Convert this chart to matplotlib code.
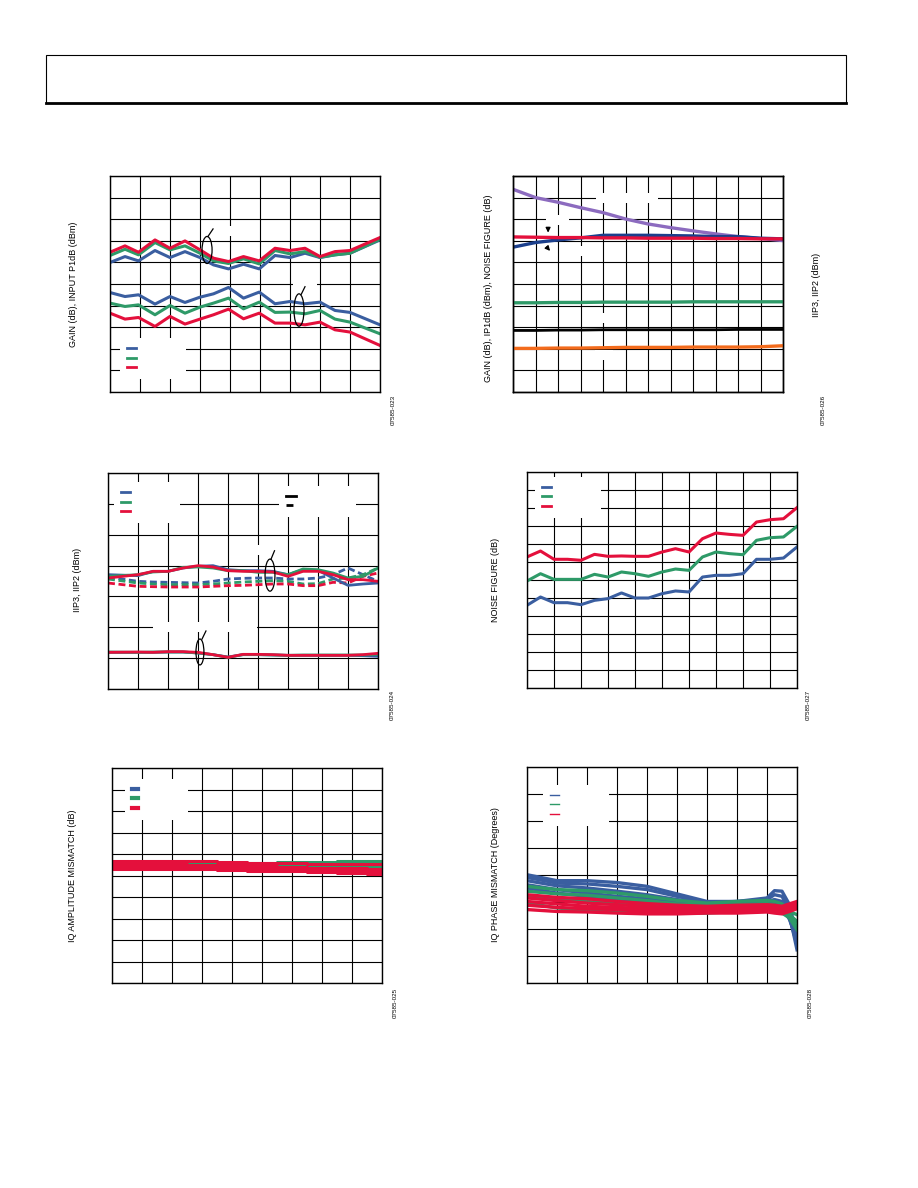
import matplotlib.pyplot as plt
import numpy as np
from matplotlib.patches import Ellipse, Rectangle
from matplotlib.lines import Line2D

plt.rcParams['font.family'] = ['Liberation Sans', 'DejaVu Sans']

W, H = 918, 1188

BLUE = '#3a5ea0'
GREEN = '#2e9a68'
RED = '#e4103c'
PURPLE = '#8c6bbf'
NAVY = '#1b3f8c'
ORANGE = '#f36b1c'
temp_labels = ['T = \u221240\u00b0C', 'T = +25\u00b0C', 'T = +85\u00b0C']

# --- gain / input P1dB vs frequency
freq_a = [700, 800, 890, 1000, 1100, 1200, 1300, 1390, 1490, 1590, 1695, 1800, 1900, 2000, 2100, 2200, 2300, 2500]
gain_cold = [11.99, 12.54, 12.14, 13.10, 12.45, 13.00, 12.45, 11.77, 11.40, 11.83, 11.40, 12.64, 12.45, 12.85, 12.45, 12.70, 12.85, 14.08]
gain_room = [12.64, 13.22, 12.70, 13.84, 13.16, 13.53, 12.85, 12.14, 11.90, 12.33, 11.86, 13.10, 12.79, 13.00, 12.48, 12.70, 12.85, 14.14]
gain_hot = [12.94, 13.53, 12.94, 14.08, 13.31, 13.99, 13.16, 12.39, 12.08, 12.54, 12.14, 13.31, 13.10, 13.31, 12.54, 13.00, 13.10, 14.30]
p1db_cold = [9.21, 8.84, 9.00, 8.14, 8.84, 8.29, 8.78, 9.09, 9.68, 8.69, 9.25, 8.17, 8.38, 8.17, 8.32, 7.55, 7.37, 6.22]
p1db_room = [8.23, 7.92, 8.07, 7.15, 8.01, 7.30, 7.86, 8.23, 8.69, 7.70, 8.32, 7.37, 7.40, 7.24, 7.55, 6.75, 6.47, 5.39]
p1db_hot = [7.30, 6.75, 6.90, 6.07, 7.00, 6.29, 6.75, 7.15, 7.67, 6.78, 7.30, 6.38, 6.38, 6.22, 6.47, 5.76, 5.55, 4.31]

# --- gain, IP1dB, NF, IIP3, IIP2 vs LO level
lo_level = [-6, -5, -4, -3, -2, -1, 0, 1, 2, 3, 4, 5, 6]
nf_lo = [18.77, 18.00, 17.57, 17.07, 16.61, 16.02, 15.56, 15.22, 14.92, 14.64, 14.39, 14.21, 14.02]
gain_lo = [14.36, 14.33, 14.30, 14.30, 14.27, 14.27, 14.24, 14.24, 14.24, 14.21, 14.21, 14.18, 14.18]
ip1db_lo = [13.41, 13.84, 14.08, 14.27, 14.51, 14.51, 14.51, 14.48, 14.45, 14.39, 14.39, 14.24, 14.18]
iip2_i_lo = [33.04, 33.04, 33.16, 33.16, 33.28, 33.28, 33.28, 33.28, 33.41, 33.41, 33.41, 33.41, 33.41]
iip2_q_lo = [22.80, 22.80, 22.93, 22.93, 23.05, 23.05, 23.05, 23.05, 23.05, 23.05, 23.17, 23.17, 23.17]
iip3_lo = [16.15, 16.15, 16.27, 16.27, 16.39, 16.52, 16.52, 16.52, 16.64, 16.64, 16.64, 16.76, 17.13]

# --- IIP3 / IIP2 vs frequency
freq_b = [700, 900, 1000, 1100, 1200, 1300, 1400, 1500, 1600, 1700, 1800, 1900, 2000, 2100, 2200, 2300, 2400, 2500]
iip2_i_cold = [37.05, 36.73, 38.13, 38.13, 39.21, 39.75, 39.97, 38.67, 38.35, 38.35, 38.13, 37.05, 38.67, 38.46, 35.97, 33.59, 34.03, 34.35]
iip2_i_room = [36.51, 37.05, 37.92, 38.13, 39.43, 39.54, 39.21, 38.35, 38.35, 37.81, 37.81, 37.05, 38.89, 38.67, 37.59, 35.97, 36.51, 39.21]
iip2_i_hot = [35.97, 37.05, 38.13, 38.13, 39.21, 39.97, 39.54, 38.35, 38.13, 38.13, 37.92, 36.51, 38.13, 38.13, 37.05, 35.43, 35.43, 34.89]
iip2_q_cold = [36.30, 34.89, 34.67, 34.57, 34.46, 34.35, 34.89, 35.65, 35.86, 35.97, 35.97, 35.65, 35.65, 35.97, 37.05, 39.21, 37.05, 34.89]
iip2_q_room = [35.65, 34.35, 34.03, 33.81, 33.81, 33.81, 34.03, 34.35, 34.67, 34.89, 35.11, 34.89, 34.03, 34.13, 35.65, 35.97, 37.05, 39.21]
iip2_q_hot = [34.35, 33.27, 33.16, 33.05, 33.05, 33.05, 33.27, 33.49, 33.59, 33.81, 34.03, 34.03, 33.49, 33.49, 34.57, 34.35, 36.51, 37.59]
iip3_cold = [11.88, 11.88, 11.88, 11.99, 11.99, 11.67, 11.13, 10.37, 11.13, 11.13, 11.02, 10.91, 10.91, 10.91, 10.91, 10.91, 10.80, 10.59]
iip3_room = [11.99, 11.88, 11.99, 11.99, 11.99, 11.67, 11.13, 10.26, 11.13, 11.13, 11.02, 10.91, 11.02, 11.02, 11.02, 11.02, 11.02, 11.23]
iip3_hot = [11.88, 11.99, 11.88, 12.10, 12.10, 11.88, 11.13, 10.26, 11.23, 11.23, 11.13, 10.91, 10.91, 10.91, 10.91, 10.91, 11.13, 11.56]

# --- noise figure vs frequency
freq_c = [500, 600, 700, 800, 900, 1000, 1100, 1200, 1300, 1400, 1500, 1600, 1700, 1800, 1900, 2000, 2100, 2200, 2300, 2400, 2500]
nf_cold = [9.19, 10.11, 9.48, 9.48, 9.26, 9.74, 9.93, 10.56, 10.00, 10.00, 10.48, 10.78, 10.67, 12.33, 12.52, 12.52, 12.70, 14.30, 14.30, 14.44, 15.67]
nf_room = [11.89, 12.70, 12.07, 12.07, 12.07, 12.63, 12.33, 12.89, 12.70, 12.41, 12.89, 13.22, 13.07, 14.56, 15.11, 14.93, 14.81, 16.41, 16.70, 16.78, 17.96]
nf_hot = [14.56, 15.22, 14.30, 14.30, 14.19, 14.85, 14.63, 14.67, 14.63, 14.63, 15.11, 15.48, 15.11, 16.59, 17.22, 17.07, 16.96, 18.44, 18.70, 18.81, 20.04]

# --- IQ amplitude mismatch, several devices per temperature
freq_d = [700, 900, 1100, 1300, 1500, 1700, 1900, 2100, 2300, 2500]
amp_cold = [
    [0.122, 0.119, 0.122, 0.116, 0.110, 0.104, 0.097, 0.097, 0.094, 0.091],
    [0.104, 0.107, 0.110, 0.104, 0.097, 0.094, 0.088, 0.091, 0.085, 0.079],
    [0.088, 0.088, 0.088, 0.085, 0.082, 0.079, 0.073, 0.066, 0.066, 0.060],
    [0.073, 0.073, 0.076, 0.073, 0.066, 0.060, 0.060, 0.051, 0.051, 0.048],
]
amp_room = [
    [0.128, 0.128, 0.125, 0.122, 0.119, 0.119, 0.122, 0.128, 0.134, 0.134],
    [0.113, 0.113, 0.113, 0.110, 0.107, 0.104, 0.104, 0.107, 0.110, 0.113],
    [0.097, 0.097, 0.097, 0.094, 0.091, 0.085, 0.082, 0.082, 0.082, 0.082],
    [0.079, 0.082, 0.082, 0.079, 0.073, 0.070, 0.066, 0.066, 0.063, 0.060],
]
amp_hot = [
    [0.134, 0.134, 0.138, 0.131, 0.122, 0.113, 0.113, 0.110, 0.107, 0.107],
    [0.110, 0.113, 0.107, 0.100, 0.094, 0.085, 0.079, 0.073, 0.066, 0.060],
    [0.082, 0.085, 0.079, 0.073, 0.066, 0.057, 0.051, 0.045, 0.039, 0.029],
    [0.060, 0.063, 0.060, 0.057, 0.051, 0.045, 0.039, 0.036, 0.026, 0.014],
]

# --- IQ phase mismatch, several devices per temperature
freq_e = [700, 900, 1100, 1300, 1500, 1700, 1900, 2100, 2300, 2350, 2400, 2450, 2500]
phase_cold = [
    [0.01, -0.21, -0.21, -0.28, -0.42, -0.70, -0.98, -0.98, -0.85, -0.58, -0.60, -1.10, -2.27],
    [-0.09, -0.30, -0.33, -0.42, -0.54, -0.79, -1.01, -0.98, -0.91, -0.73, -0.79, -1.28, -2.52],
    [-0.21, -0.40, -0.48, -0.60, -0.73, -0.91, -1.06, -1.04, -0.98, -0.91, -0.98, -1.47, -2.77],
    [-0.36, -0.54, -0.67, -0.79, -0.88, -1.00, -1.10, -1.07, -1.04, -1.00, -1.10, -1.59, -2.58],
    [-0.48, -0.67, -0.79, -0.91, -0.98, -1.06, -1.12, -1.12, -1.10, -1.10, -1.16, -1.65, -2.40],
]
phase_room = [
    [-0.42, -0.54, -0.58, -0.67, -0.79, -0.94, -1.04, -0.98, -0.94, -0.98, -1.07, -1.35, -1.47],
    [-0.60, -0.70, -0.75, -0.85, -0.95, -1.07, -1.12, -1.10, -1.06, -1.12, -1.20, -1.47, -1.72],
    [-0.79, -0.88, -0.98, -1.07, -1.16, -1.22, -1.22, -1.20, -1.16, -1.22, -1.28, -1.53, -1.90],
    [-1.04, -1.22, -1.32, -1.35, -1.37, -1.41, -1.41, -1.35, -1.32, -1.35, -1.41, -1.59, -2.03],
]
phase_hot = [
    [-0.73, -0.83, -0.88, -0.98, -1.06, -1.12, -1.16, -1.12, -1.10, -1.12, -1.16, -1.07, -0.98],
    [-0.85, -0.95, -1.04, -1.10, -1.16, -1.22, -1.22, -1.20, -1.16, -1.20, -1.22, -1.12, -1.04],
    [-0.98, -1.07, -1.16, -1.20, -1.25, -1.28, -1.28, -1.25, -1.22, -1.25, -1.28, -1.20, -1.10],
    [-1.12, -1.20, -1.25, -1.28, -1.35, -1.37, -1.35, -1.32, -1.28, -1.32, -1.35, -1.25, -1.16],
    [-1.28, -1.35, -1.37, -1.41, -1.44, -1.44, -1.41, -1.41, -1.37, -1.41, -1.44, -1.35, -1.25],
]


def make_axes(fig, x0, y0, x1, y1):
    return fig.add_axes([x0 / W, 1 - y1 / H, (x1 - x0) / W, (y1 - y0) / H])


def style(ax, xlim, ylim, nx, ny):
    ax.set_xlim(xlim)
    ax.set_ylim(ylim)
    ax.set_xticks(np.linspace(xlim[0], xlim[1], nx + 1))
    ax.set_yticks(np.linspace(ylim[0], ylim[1], ny + 1))
    ax.grid(True, color='black', lw=0.8)
    ax.set_axisbelow(True)
    ax.tick_params(length=0, labelleft=False, labelbottom=False)
    for s in ax.spines.values():
        s.set_linewidth(1.0)


def ylabel(ax, text, x, y=0.5):
    ax.set_ylabel(text, fontsize=6.5)
    ax.yaxis.set_label_coords(x, y)


def fig_id(ax, text, x, y):
    ax.text(x, y, text, transform=ax.transAxes, rotation=90, fontsize=4.5,
            ha='center', va='center')


def hidden_label(ax, x, y, text):
    # labels printed white in the source, only their backgrounds break the grid
    ax.text(x, y, text, color='white', fontsize=6, ha='center', va='center', zorder=1,
            bbox=dict(fc='white', ec='none', pad=1.0))


def temp_legend(ax, anchor, lw=2.0, hl=1.1):
    handles = [Line2D([], [], color=c, lw=lw) for c in (BLUE, GREEN, RED)]
    ax.legend(handles, temp_labels, loc='upper left', bbox_to_anchor=anchor,
              fontsize=6, labelcolor='white', handlelength=hl, handletextpad=0.6,
              labelspacing=0.25, borderpad=0.8, borderaxespad=0, fancybox=False,
              framealpha=1, facecolor='white', edgecolor='none')


def ring(ax, xy, w, h, tick):
    ax.add_patch(Ellipse(xy, w, h, fill=False, ec='black', lw=0.9, zorder=4))
    ax.plot(tick[0], tick[1], color='black', lw=0.9, zorder=4)


fig = plt.figure(figsize=(W / 100, H / 100), dpi=100)

# header box
fig.add_artist(Rectangle((46 / W, 1 - 103 / H), 800 / W, 48 / H, transform=fig.transFigure,
                         fill=False, ec='black', lw=0.8))
fig.add_artist(Line2D([46 / W, 846 / W], [1 - 103 / H, 1 - 103 / H], transform=fig.transFigure,
                      color='black', lw=2.0))

# ---- plot 1
ax1 = make_axes(fig, 110, 176, 380, 392)
style(ax1, (700, 2500), (0, 20), 9, 10)
for ys, c in ((gain_cold, BLUE), (gain_room, GREEN), (gain_hot, RED),
              (p1db_cold, BLUE), (p1db_room, GREEN), (p1db_hot, RED)):
    ax1.plot(freq_a, ys, color=c, lw=2.2)
hidden_label(ax1, 1500, 14.9, 'GAIN')
hidden_label(ax1, 2000, 10.0, 'P1dB')
ring(ax1, (1347, 13.15), 67, 2.5, ([1353, 1387], [14.4, 15.1]))
ring(ax1, (1960, 7.59), 67, 3.0, ([1975, 2000], [9.05, 9.75]))
temp_legend(ax1, (0.037, 0.25))
ylabel(ax1, 'GAIN (dB), INPUT P1dB (dBm)', -0.119)
fig_id(ax1, '07585-023', 1.048, -0.083)

# ---- plot 2
ax2 = make_axes(fig, 513, 176, 783, 392)
style(ax2, (-6, 6), (0, 20), 12, 10)
ax2.plot(lo_level, nf_lo, color=PURPLE, lw=2.4)
ax2.plot(lo_level, ip1db_lo, color=NAVY, lw=2.4)
ax2.plot(lo_level, gain_lo, color=RED, lw=2.4)
hidden_label(ax2, -0.93, 17.96, 'NOISE FIGURE')
hidden_label(ax2, -4.04, 15.93, 'GAIN')
hidden_label(ax2, -3.24, 13.06, 'IP1dB')
hidden_label(ax2, -1.96, 6.85, 'IIP2')
hidden_label(ax2, -1.96, 3.43, 'IIP3')
ax2.annotate('', xy=(-4.44, 14.5), xytext=(-4.44, 15.5),
             arrowprops=dict(arrowstyle='-|>', color='black', lw=0.9, mutation_scale=7))
ax2.annotate('', xy=(-4.27, 12.87), xytext=(-4.58, 13.61),
             arrowprops=dict(arrowstyle='-|>', color='black', lw=0.9, mutation_scale=7))
ylabel(ax2, 'GAIN (dB), IP1dB (dBm), NOISE FIGURE (dB)', -0.074, 0.48)
ax2r = ax2.twinx()
ax2r.set_ylim(0, 80)
ax2r.set_yticks([])
for s in ax2r.spines.values():
    s.set_linewidth(1.0)
ax2r.plot(lo_level, iip2_i_lo, color=GREEN, lw=2.4)
ax2r.plot(lo_level, iip2_q_lo, color='black', lw=2.0)
ax2r.plot(lo_level, iip3_lo, color=ORANGE, lw=2.4)
ax2r.set_ylabel('IIP3, IIP2 (dBm)', fontsize=6.5)
ax2r.yaxis.set_label_coords(1.107, 0.495)
fig_id(ax2, '07585-026', 1.148, -0.083)

# ---- plot 3
ax3 = make_axes(fig, 108, 473, 378, 689)
style(ax3, (700, 2500), (0, 70), 9, 7)
dash = (0, (2.5, 1.3))
for ys, c in ((iip2_q_cold, BLUE), (iip2_q_room, GREEN), (iip2_q_hot, RED)):
    ax3.plot(freq_b, ys, color=c, lw=2.0, ls=dash)
for ys, c in ((iip2_i_cold, BLUE), (iip2_i_room, GREEN), (iip2_i_hot, RED),
              (iip3_cold, BLUE), (iip3_room, GREEN), (iip3_hot, RED)):
    ax3.plot(freq_b, ys, color=c, lw=2.0)
hidden_label(ax3, 1347, 20.1, 'IIP3 (I AND Q CHANNELS)')
hidden_label(ax3, 1700, 45.0, 'IIP2')
ring(ax3, (1780, 36.9), 66, 10.4, ([1787, 1810], [42.1, 44.8]))
ring(ax3, (1313, 12.0), 53, 8.4, ([1327, 1353], [16.2, 18.8]))
temp_legend(ax3, (0.022, 0.958))
leg_main = ax3.get_legend()
ch_handles = [Line2D([], [], color='black', lw=2.0), Line2D([], [], color='black', lw=2.0, ls=dash)]
ax3.legend(ch_handles, ['I CHANNEL', 'Q CHANNEL'], loc='upper left', bbox_to_anchor=(0.633, 0.94),
           fontsize=6, labelcolor='white', handlelength=1.3, handletextpad=0.6,
           labelspacing=0.2, borderpad=0.8, borderaxespad=0, fancybox=False,
           framealpha=1, facecolor='white', edgecolor='none')
ax3.add_artist(leg_main)
ylabel(ax3, 'IIP3, IIP2 (dBm)', -0.096, 0.505)
fig_id(ax3, '07585-024', 1.052, -0.074)

# ---- plot 4
ax4 = make_axes(fig, 527, 472, 797, 688)
style(ax4, (500, 2500), (0, 24), 10, 12)
for ys, c in ((nf_cold, BLUE), (nf_room, GREEN), (nf_hot, RED)):
    ax4.plot(freq_c, ys, color=c, lw=2.2)
temp_legend(ax4, (0.03, 0.977))
ylabel(ax4, 'NOISE FIGURE (dB)', -0.1)
fig_id(ax4, '07585-027', 1.04, -0.079)

# ---- plot 5
ax5 = make_axes(fig, 112, 768, 382, 983)
style(ax5, (700, 2500), (-1, 1), 9, 10)
for group, c in ((amp_cold, BLUE), (amp_room, GREEN), (amp_hot, RED)):
    for ys in group:
        ax5.plot(freq_d, ys, color=c, lw=2.2, drawstyle='steps-mid')
temp_legend(ax5, (0.048, 0.949), lw=3.0, hl=0.8)
ylabel(ax5, 'IQ AMPLITUDE MISMATCH (dB)', -0.13)
fig_id(ax5, '07585-025', 1.048, -0.093)

# ---- plot 6
ax6 = make_axes(fig, 527, 767, 797, 983)
style(ax6, (700, 2500), (-4, 4), 9, 8)
for group, c in ((phase_cold, BLUE), (phase_room, GREEN), (phase_hot, RED)):
    for ys in group:
        ax6.plot(freq_e, ys, color=c, lw=2.4)
temp_legend(ax6, (0.059, 0.917), lw=1.0)
ylabel(ax6, 'IQ PHASE MISMATCH (Degrees)', -0.1)
fig_id(ax6, '07585-028', 1.048, -0.093)

fig.savefig('out.png', dpi=100)
